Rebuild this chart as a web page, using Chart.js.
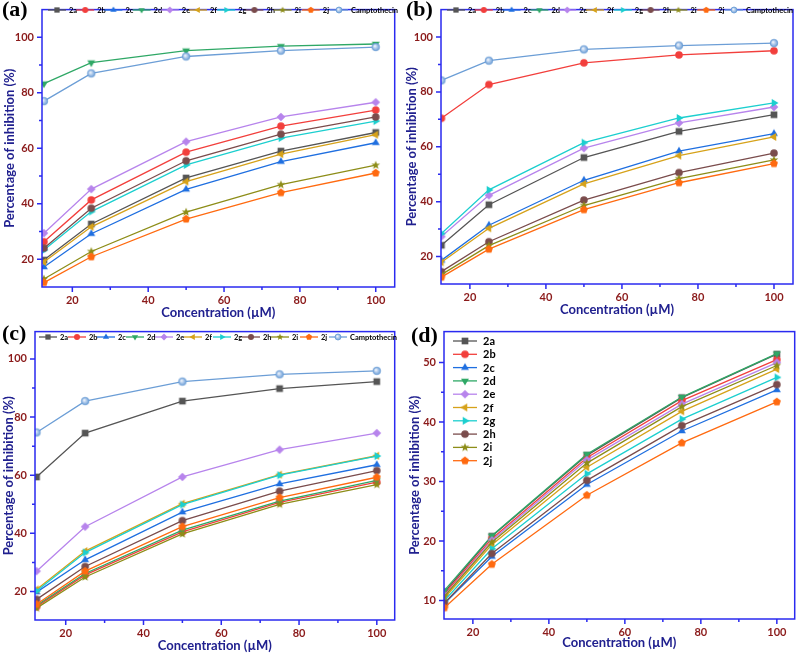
<!DOCTYPE html>
<html>
<head>
<meta charset="utf-8">
<script src="https://cdn.jsdelivr.net/npm/chart.js@4.4.0/dist/chart.umd.min.js"></script>
<style>
  html, body { margin: 0; padding: 0; background: #fff; overflow: hidden; }
  #wrap { position: relative; width: 800px; height: 654px; }
  canvas { position: absolute; }
  .tag { position: absolute; font: bold 22px "Liberation Serif", serif; color: #000; line-height: 1; }
</style>
</head>
<body>
<div id="wrap">
  <canvas id="pa" width="400" height="322" style="left:0;top:0"></canvas>
  <canvas id="pb" width="400" height="322" style="left:400px;top:0"></canvas>
  <canvas id="pc" width="400" height="332" style="left:0;top:322px"></canvas>
  <canvas id="pd" width="400" height="332" style="left:400px;top:322px"></canvas>
  <div class="tag" style="left:2px;top:-2px">(a)</div>
  <div class="tag" style="left:406px;top:-2px">(b)</div>
  <div class="tag" style="left:2px;top:322px">(c)</div>
  <div class="tag" style="left:411px;top:324px">(d)</div>
</div>
<script>
// concentration in µM
const concentration = [12.5, 25, 50, 75, 100];
const compounds = ['2a', '2b', '2c', '2d', '2e', '2f', '2g', '2h', '2i', '2j', 'Camptothecin'];

// % inhibition, one row per compound (same order as `compounds`)
const inhibitionA = [
  [19.7, 32.7, 49.3, 59.0, 65.7],
  [26.3, 41.4, 58.6, 68.0, 73.8],
  [17.2, 29.2, 45.2, 55.2, 62.0],
  [83.3, 90.9, 95.2, 96.8, 97.6],
  [29.4, 45.3, 62.4, 71.3, 76.6],
  [19.0, 31.7, 48.0, 57.9, 64.9],
  [23.3, 37.2, 54.0, 63.7, 69.8],
  [24.0, 38.4, 55.5, 65.1, 71.3],
  [12.9, 22.8, 37.0, 46.9, 53.9],
  [11.6, 20.9, 34.5, 44.0, 51.1],
  [77.0, 87.0, 93.1, 95.2, 96.5]
];
const inhibitionB = [
  [24.1, 38.9, 56.1, 65.6, 71.7],
  [70.4, 82.7, 90.6, 93.5, 95.0],
  [18.6, 31.4, 47.8, 58.4, 64.8],
  [null, null, null, null, null], // 2d: no curve visible in (b)
  [27.3, 42.3, 59.5, 68.7, 74.5],
  [17.9, 30.3, 46.5, 56.8, 63.6],
  [28.4, 44.3, 61.5, 70.5, 76.0],
  [14.5, 25.4, 40.6, 50.6, 57.7],
  [13.4, 24.0, 38.6, 48.4, 55.2],
  [12.5, 22.7, 37.1, 46.9, 53.9],
  [84.2, 91.4, 95.5, 96.9, 97.8]
];
const inhibitionC = [
  [59.4, 74.5, 85.5, 89.8, 92.2],
  [14.8, 25.7, 40.5, 50.7, 57.6],
  [19.8, 30.9, 47.3, 57.0, 63.6],
  [15.2, 26.2, 41.1, 51.1, 58.2],
  [27.0, 42.3, 59.4, 68.8, 74.5],
  [20.7, 33.9, 50.2, 60.2, 66.7],
  [20.2, 33.4, 49.9, 60.0, 66.6],
  [17.3, 28.6, 44.4, 54.5, 61.6],
  [14.3, 25.0, 39.8, 50.0, 56.8],
  [15.6, 27.0, 42.3, 52.3, 59.3],
  [74.7, 85.5, 92.2, 94.7, 95.9]
];
const inhibitionD = [
  [11.4, 20.8, 34.4, 44.1, 51.4],
  [11.1, 20.4, 34.0, 43.6, 50.5],
  [9.5, 17.4, 29.5, 38.5, 45.4],
  [11.7, 20.9, 34.6, 44.2, 51.5],
  [10.8, 20.1, 33.6, 43.0, 50.0],
  [10.4, 19.4, 32.4, 41.8, 48.9],
  [10.0, 18.7, 31.3, 40.5, 47.5],
  [9.6, 17.9, 30.2, 39.4, 46.3],
  [10.7, 19.8, 33.1, 42.6, 49.5],
  [8.8, 16.1, 27.7, 36.5, 43.4]
];

const ticksX = [20, 40, 60, 80, 100];
const minorX = [30, 50, 70, 90];
const ticksY = [20, 40, 60, 80, 100];
const minorY = [30, 50, 70, 90];
const ticksYD = [10, 20, 30, 40, 50];
const minorYD = [15, 25, 35, 45];

const frameColor = '#2a2af0';
const titleColor = '#20208f';
const tickColor = '#8b1a1a';

const styles = [
  { color: '#555555', shape: 'square' },
  { color: '#f23f3c', shape: 'circle' },
  { color: '#1f6fe0', shape: 'up' },
  { color: '#2fa866', shape: 'down' },
  { color: '#b784ec', shape: 'diamond' },
  { color: '#d6a21a', shape: 'left' },
  { color: '#1ccfcf', shape: 'right' },
  { color: '#7a4c4c', shape: 'circle' },
  { color: '#8d8d18', shape: 'star' },
  { color: '#ff6a10', shape: 'pentagon' },
  { color: '#6c9ed6', shape: 'sphere' }
];

function marker(shape, color, r) {
  const s = Math.ceil(r * 2 + 4);
  const c = document.createElement('canvas');
  c.width = s; c.height = s;
  const g = c.getContext('2d');
  const m = s / 2;
  const poly = (n, rot, rr) => {
    for (let i = 0; i < n; i++) {
      const a = rot + i * 2 * Math.PI / n;
      g.lineTo(m + rr * Math.cos(a), m + rr * Math.sin(a));
    }
    g.closePath();
  };
  g.fillStyle = color;
  g.beginPath();
  if (shape === 'square') g.rect(m - r * 0.88, m - r * 0.88, r * 1.76, r * 1.76);
  else if (shape === 'circle' || shape === 'sphere') g.arc(m, m, r, 0, Math.PI * 2);
  else if (shape === 'up') poly(3, -Math.PI / 2, r * 1.2);
  else if (shape === 'down') poly(3, Math.PI / 2, r * 1.2);
  else if (shape === 'left') poly(3, Math.PI, r * 1.2);
  else if (shape === 'right') poly(3, 0, r * 1.2);
  else if (shape === 'diamond') poly(4, 0, r * 1.15);
  else if (shape === 'pentagon') poly(5, -Math.PI / 2, r * 1.1);
  else if (shape === 'star') {
    for (let i = 0; i < 10; i++) {
      const a = -Math.PI / 2 + i * Math.PI / 5;
      const rr = i % 2 ? r * 0.5 : r * 1.2;
      g.lineTo(m + rr * Math.cos(a), m + rr * Math.sin(a));
    }
    g.closePath();
  }
  if (shape === 'sphere') {
    const grad = g.createRadialGradient(m - r * 0.3, m - r * 0.3, 0, m, m, r);
    grad.addColorStop(0, '#ffffff');
    grad.addColorStop(0.45, '#b8d0ee');
    grad.addColorStop(1, color);
    g.fillStyle = grad;
    g.fill();
    g.strokeStyle = color;
    g.lineWidth = 0.8;
    g.stroke();
  } else {
    g.fill();
  }
  return c;
}

// frame, outward ticks and an Origin-like legend drawn inside the plot
const panelDeco = {
  id: 'panelDeco',
  afterDatasetsDraw(chart, args, o) {
    const { ctx, chartArea: a, scales: { x, y } } = chart;
    ctx.save();
    ctx.strokeStyle = frameColor;
    ctx.lineWidth = 1.5;
    ctx.strokeRect(a.left, a.top, a.right - a.left, a.bottom - a.top);
    ctx.beginPath();
    ticksX.forEach(v => { const p = x.getPixelForValue(v); ctx.moveTo(p, a.bottom); ctx.lineTo(p, a.bottom + 5); });
    minorX.forEach(v => { const p = x.getPixelForValue(v); ctx.moveTo(p, a.bottom); ctx.lineTo(p, a.bottom + 3); });
    o.yTicks.forEach(v => { const p = y.getPixelForValue(v); ctx.moveTo(a.left, p); ctx.lineTo(a.left - 5, p); });
    o.yMinor.forEach(v => { const p = y.getPixelForValue(v); ctx.moveTo(a.left, p); ctx.lineTo(a.left - 3, p); });
    ctx.stroke();

    const lg = o.legend;
    ctx.font = lg.font;
    ctx.textBaseline = 'middle';
    ctx.textAlign = 'left';
    chart.data.datasets.forEach((ds, i) => {
      let tx, ty;
      if (lg.row) { tx = lg.x + i * lg.pitch; ty = lg.y; }
      else { tx = lg.x; ty = lg.y + i * lg.pitch; }
      ctx.strokeStyle = ds.borderColor;
      ctx.lineWidth = 1.3;
      ctx.beginPath();
      ctx.moveTo(tx - lg.line - lg.gap, ty);
      ctx.lineTo(tx - lg.gap, ty);
      ctx.stroke();
      const mk = ds.legendMarker;
      ctx.drawImage(mk, tx - lg.gap - lg.line / 2 - mk.width / 2, ty - mk.height / 2);
      ctx.fillStyle = lg.color;
      ctx.fillText(ds.label, tx, ty + 0.5);
    });
    ctx.restore();
  }
};

function panel(id, rows, box, yMin, yMax, xMin, xMax, yTicks, yMinor, legend, legendR) {
  const datasets = rows.map((row, i) => ({
    label: compounds[i],
    data: row.map((v, j) => ({ x: concentration[j], y: v })),
    borderColor: styles[i].color,
    backgroundColor: styles[i].color,
    borderWidth: 1.3,
    pointStyle: marker(styles[i].shape, styles[i].color, 3.8),
    legendMarker: marker(styles[i].shape, styles[i].color, legendR),
    pointRadius: 3.8,
    tension: 0,
    order: rows.length - i
  }));
  const padBottom = Math.max(0, box.cy + box.h - box.xTitle - 6.5);
  const xHeight = box.cy + box.h - padBottom - box.B;
  const titleFont = { family: 'Lato', weight: 'bold', size: 13, lineHeight: 1 };
  const tickFont = { family: 'Lato', weight: 'bold', size: 11 };
  new Chart(document.getElementById(id), {
    type: 'line',
    data: { datasets },
    plugins: [panelDeco],
    options: {
      responsive: false,
      animation: false,
      events: [],
      layout: { padding: { left: 0, top: box.T - box.cy, right: box.cx + box.w - box.R, bottom: padBottom } },
      plugins: {
        legend: { display: false },
        tooltip: { enabled: false },
        panelDeco: { yTicks, yMinor, legend }
      },
      scales: {
        x: {
          type: 'linear', min: xMin, max: xMax,
          afterBuildTicks: s => { s.ticks = ticksX.map(v => ({ value: v })); },
          afterFit: s => { s.height = xHeight; },
          grid: { drawOnChartArea: false, color: 'rgba(0,0,0,0)', tickLength: 5 },
          border: { display: false },
          ticks: { color: tickColor, font: tickFont, padding: 2, maxRotation: 0, autoSkip: false },
          title: { display: true, text: 'Concentration (µM)', color: titleColor, font: titleFont, padding: 0 }
        },
        y: {
          min: yMin, max: yMax,
          afterBuildTicks: s => { s.ticks = yTicks.map(v => ({ value: v })); },
          afterFit: s => { s.width = box.L - box.cx; },
          grid: { drawOnChartArea: false, color: 'rgba(0,0,0,0)', tickLength: 5 },
          border: { display: false },
          ticks: { color: tickColor, font: tickFont, padding: 3 },
          title: { display: true, text: 'Percentage of inhibition (%)', color: titleColor, font: titleFont, padding: { top: box.yTitle - box.cx - 6.5, bottom: 0 } }
        }
      }
    }
  });
}

const rowLegendFont = 'bold 7.5px Lato';

panel('pa', inhibitionA,
  { cx: 0, cy: 0, w: 400, h: 322, L: 42, T: 2, R: 399, B: 287, xTitle: 313, yTitle: 10 },
  10, 110, 12, 105, ticksY, minorY,
  { row: true, x: 69, y: 10, pitch: 28.2, line: 18, gap: 3, font: rowLegendFont, color: '#000' }, 3);

panel('pb', inhibitionB,
  { cx: 400, cy: 0, w: 400, h: 322, L: 441, T: 2, R: 793, B: 284, xTitle: 310, yTitle: 412 },
  10, 110, 12.4, 105, ticksY, minorY,
  { row: true, x: 68, y: 10, pitch: 27.8, line: 18, gap: 3, font: rowLegendFont, color: '#000' }, 3);

panel('pc', inhibitionC,
  { cx: 0, cy: 322, w: 400, h: 332, L: 35, T: 330, R: 398, B: 620, xTitle: 646, yTitle: 9 },
  10.2, 109.4, 12.1, 104.6, ticksY, minorY,
  { row: true, x: 60, y: 15, pitch: 29, line: 18, gap: 3, font: rowLegendFont, color: '#000' }, 3);

panel('pd', inhibitionD,
  { cx: 400, cy: 322, w: 400, h: 332, L: 444, T: 324, R: 798, B: 619, xTitle: 643, yTitle: 415 },
  6.9, 55.2, 12.4, 104.7, ticksYD, minorYD,
  { row: false, x: 83, y: 19, pitch: 13.3, line: 24, gap: 6, font: 'bold 11px Lato', color: '#000' }, 3.8);
</script>
</body>
</html>
